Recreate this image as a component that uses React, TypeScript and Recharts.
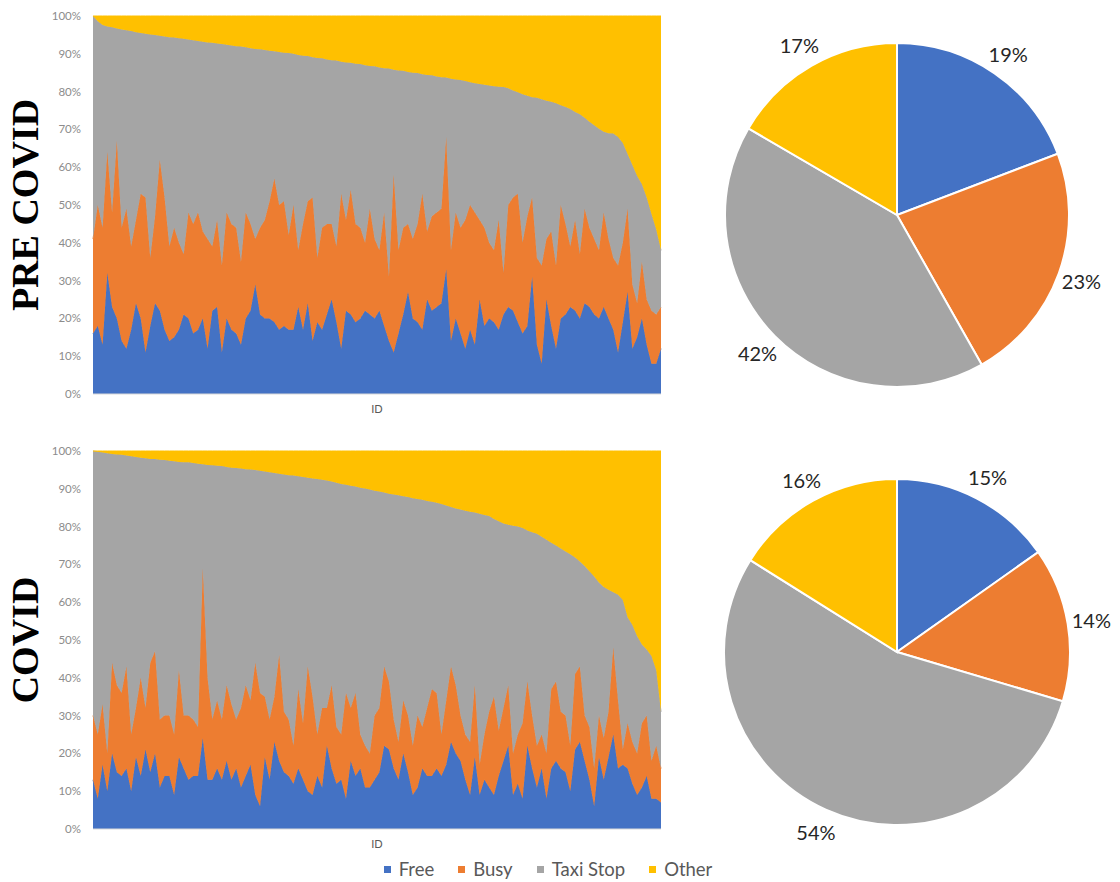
import React from 'react';
import { AreaChart, Area, XAxis, YAxis, PieChart, Pie, Cell } from 'recharts';

const seriesNames = ['Free', 'Busy', 'Taxi Stop', 'Other'];
const seriesKeys = ['free', 'busy', 'stop', 'other'];
const seriesColors = ['#4472C4', '#ED7D31', '#A5A5A5', '#FFC000'];
const yTicks = [0, 10, 20, 30, 40, 50, 60, 70, 80, 90, 100];

// levels, in %: top edge of Free, of Busy and of Taxi Stop
const preFree = [
  16, 18, 13, 32, 23, 20, 14, 12, 17, 24, 20, 11, 18, 24, 22, 17, 14, 15, 17, 21,
  20, 16, 17, 20, 12, 22, 23, 11, 20, 17, 16, 13, 20, 22, 29, 21, 20, 20, 19, 17,
  18, 17, 17, 23, 17, 24, 14, 19, 17, 21, 25, 19, 12, 22, 21, 19, 20, 22, 21, 20,
  22, 18, 14, 11, 16, 21, 27, 20, 19, 17, 25, 22, 23, 24, 33, 14, 20, 16, 12, 17,
  13, 25, 18, 20, 19, 17, 21, 23, 22, 19, 16, 18, 31, 13, 8, 25, 18, 12, 20, 21,
  23, 22, 20, 24, 23, 21, 20, 23, 20, 17, 11, 19, 27, 12, 15, 20, 13, 8, 8, 12,
];
const preBusyTop = [
  41, 50, 44, 64, 48, 67, 44, 49, 39, 46, 53, 52, 36, 47, 62, 52, 39, 44, 40, 37,
  48, 45, 48, 43, 41, 39, 46, 34, 48, 45, 44, 35, 48, 45, 41, 44, 46, 51, 57, 50,
  51, 42, 50, 38, 45, 51, 52, 36, 44, 45, 45, 39, 53, 46, 54, 45, 44, 40, 49, 41,
  38, 48, 31, 58, 38, 44, 45, 41, 45, 53, 43, 47, 48, 49, 68, 38, 48, 44, 46, 50,
  48, 46, 44, 40, 38, 46, 32, 50, 52, 53, 40, 47, 52, 36, 34, 41, 43, 34, 50, 45,
  39, 46, 37, 49, 44, 41, 38, 48, 41, 36, 34, 40, 49, 29, 24, 35, 25, 22, 21, 23,
];
const preStopTop = [
  100, 98.6, 97.6, 97.2, 97.0, 96.7, 96.4, 96.2, 96.0, 95.7, 95.5, 95.3, 95.1, 95.0, 94.8, 94.6, 94.4, 94.3, 94.1, 94.0,
  93.8, 93.6, 93.4, 93.2, 93.0, 92.9, 92.7, 92.6, 92.4, 92.2, 92.0, 91.9, 91.7, 91.5, 91.3, 91.2, 91.0, 90.8, 90.7, 90.5,
  90.3, 90.2, 90.0, 89.7, 89.5, 89.4, 89.1, 88.9, 88.8, 88.5, 88.3, 88.2, 87.9, 87.7, 87.6, 87.4, 87.3, 87.0, 86.8, 86.7,
  86.4, 86.2, 86.1, 85.8, 85.6, 85.5, 85.2, 85.0, 84.9, 84.6, 84.4, 84.3, 84.0, 83.8, 83.7, 83.4, 83.2, 83.1, 82.8, 82.5,
  82.2, 82.0, 81.8, 81.6, 81.4, 81.3, 81.2, 80.9, 80.3, 79.8, 79.3, 78.9, 78.5, 78.4, 78.0, 77.6, 77.3, 76.9, 76.4, 75.9,
  75.4, 74.6, 74.0, 73.1, 72.0, 71.1, 70.2, 69.4, 69.0, 68.9, 68.0, 66.4, 63.5, 60.6, 57.7, 55.5, 52.0, 47.6, 43.5, 38.0,
];

const covidFree = [
  13, 8, 17, 10, 20, 15, 14, 16, 10, 19, 14, 21, 15, 20, 11, 14, 14, 9, 19, 16,
  13, 14, 14, 24, 13, 13, 16, 13, 18, 13, 16, 11, 14, 17, 9, 6, 19, 13, 23, 18,
  15, 14, 12, 16, 13, 10, 9, 14, 11, 22, 16, 12, 13, 8, 18, 14, 16, 11, 11, 13,
  15, 22, 21, 16, 13, 20, 15, 9, 11, 16, 14, 14, 16, 14, 17, 23, 20, 18, 13, 9,
  19, 9, 13, 11, 9, 14, 18, 22, 9, 12, 8, 22, 16, 11, 16, 8, 16, 18, 16, 15,
  10, 21, 23, 18, 13, 6, 19, 13, 19, 25, 16, 17, 16, 12, 9, 11, 14, 8, 8, 7,
];
const covidBusyTop = [
  30, 25, 33, 20, 44, 38, 36, 43, 25, 32, 40, 32, 44, 47, 29, 30, 30, 25, 42, 30,
  30, 29, 27, 69, 40, 29, 34, 29, 38, 33, 29, 32, 38, 34, 44, 36, 35, 29, 35, 46,
  31, 29, 22, 37, 28, 43, 35, 25, 32, 32, 38, 27, 25, 36, 32, 36, 25, 22, 20, 30,
  32, 43, 39, 29, 23, 34, 30, 22, 30, 27, 32, 37, 36, 25, 34, 43, 38, 30, 25, 23,
  38, 17, 25, 31, 35, 26, 32, 38, 20, 25, 28, 39, 30, 22, 25, 20, 37, 39, 31, 30,
  22, 41, 43, 30, 27, 16, 30, 24, 31, 48, 34, 21, 28, 23, 20, 28, 30, 18, 22, 16,
];
const covidStopTop = [
  100, 99.8, 99.6, 99.4, 99.2, 99.1, 99.0, 98.8, 98.6, 98.4, 98.2, 98.1, 97.9, 97.9, 97.7, 97.6, 97.4, 97.3, 97.1, 97.0,
  97.0, 96.8, 96.6, 96.5, 96.3, 96.2, 96.1, 96.0, 95.8, 95.6, 95.5, 95.4, 95.2, 95.1, 95.0, 94.8, 94.6, 94.4, 94.2, 94.0,
  93.8, 93.6, 93.5, 93.3, 93.1, 92.9, 92.7, 92.6, 92.4, 92.2, 91.9, 91.6, 91.3, 91.1, 90.8, 90.6, 90.3, 90.1, 89.8, 89.5,
  89.3, 89.0, 88.7, 88.5, 88.3, 88.0, 87.8, 87.5, 87.3, 87.1, 86.8, 86.6, 86.3, 86.0, 85.6, 85.2, 84.8, 84.5, 84.2, 83.9,
  83.7, 83.4, 83.1, 82.8, 82.0, 81.4, 80.8, 80.5, 80.2, 80.0, 79.6, 79.0, 78.5, 78.1, 77.3, 76.5, 75.7, 75.0, 74.2, 73.4,
  72.7, 71.8, 70.8, 69.6, 68.2, 66.8, 65.2, 64.0, 63.3, 62.6, 62.0, 60.6, 56.0, 54.0, 51.0, 48.8, 47.5, 45.8, 42.0, 31.0,
];

// overall shares (Free, Busy, Taxi Stop, Other)
const prePie = [19.2, 22.6, 41.6, 16.6];
const covidPie = [15.2, 14.4, 54.3, 16.1];

const RADIAN = Math.PI / 180;

function buildRows(free: number[], busyTop: number[], stopTop: number[]) {
  return free.map((f, i) => ({
    id: i + 1,
    free: f,
    busy: busyTop[i] - f,
    stop: stopTop[i] - busyTop[i],
    other: 100 - stopTop[i],
  }));
}

function StackedShare({ rows }: { rows: ReturnType<typeof buildRows> }) {
  return (
    <AreaChart
      width={680}
      height={420}
      data={rows}
      margin={{ top: 16, right: 19, bottom: 6, left: 43 }}
    >
      <XAxis
        dataKey="id"
        tick={false}
        tickLine={false}
        axisLine={{ stroke: '#d9d9d9' }}
        height={20}
        label={{ value: 'ID', position: 'insideBottom', offset: 1, fill: '#595959', fontSize: 11 }}
      />
      <YAxis
        type="number"
        domain={[0, 100]}
        ticks={yTicks}
        interval={0}
        width={50}
        tickLine={false}
        axisLine={false}
        tickMargin={6}
        tick={{ fill: '#8c8c8c', fontSize: 11.5 }}
        tickFormatter={(v) => `${v}%`}
      />
      {seriesKeys.map((key, i) => (
        <Area
          key={key}
          type="linear"
          dataKey={key}
          name={seriesNames[i]}
          stackId="share"
          fill={seriesColors[i]}
          fillOpacity={1}
          stroke={seriesColors[i]}
          strokeWidth={1}
          dot={false}
          activeDot={false}
          isAnimationActive={false}
        />
      ))}
    </AreaChart>
  );
}

const renderPieLabel = (props: any) => {
  const { cx, cy, midAngle, outerRadius, percent } = props;
  const r = outerRadius + 24;
  const x = cx + r * Math.cos(-midAngle * RADIAN);
  const y = cy + r * Math.sin(-midAngle * RADIAN);
  return (
    <text x={x} y={y} fill="#262626" fontSize={20} textAnchor="middle" dominantBaseline="central">
      {`${Math.round(percent * 100)}%`}
    </text>
  );
};

function SharePie({ values, radius }: { values: number[]; radius: number }) {
  const data = seriesNames.map((name, i) => ({ name, value: values[i] }));
  return (
    <PieChart width={440} height={430} margin={{ top: 0, right: 0, bottom: 0, left: 0 }}>
      <Pie
        data={data}
        dataKey="value"
        cx={217}
        cy={215}
        outerRadius={radius}
        startAngle={90}
        endAngle={-270}
        stroke="#ffffff"
        strokeWidth={2}
        label={renderPieLabel}
        labelLine={false}
        isAnimationActive={false}
      >
        {data.map((d, i) => (
          <Cell key={d.name} fill={seriesColors[i]} />
        ))}
      </Pie>
    </PieChart>
  );
}

function SideTitle({ text, y }: { text: string; y: number }) {
  return (
    <div
      style={{
        position: 'absolute',
        left: 25,
        top: y,
        transform: 'translate(-50%, -50%) rotate(-90deg)',
        fontFamily: '"Liberation Serif", "Times New Roman", serif',
        fontWeight: 700,
        fontSize: 38,
        lineHeight: '38px',
        whiteSpace: 'nowrap',
        color: '#000',
      }}
    >
      {text}
    </div>
  );
}

export default function App() {
  const preRows = buildRows(preFree, preBusyTop, preStopTop);
  const covidRows = buildRows(covidFree, covidBusyTop, covidStopTop);

  return (
    <div
      style={{
        position: 'absolute',
        left: 0,
        top: 0,
        width: 1120,
        height: 882,
        background: '#fff',
        fontFamily: 'Lato, "Noto Sans", sans-serif',
      }}
    >
      <div style={{ position: 'absolute', left: 0, top: 0 }}>
        <StackedShare rows={preRows} />
      </div>
      <div style={{ position: 'absolute', left: 0, top: 435 }}>
        <StackedShare rows={covidRows} />
      </div>
      <div style={{ position: 'absolute', left: 680, top: 0 }}>
        <SharePie values={prePie} radius={172} />
      </div>
      <div style={{ position: 'absolute', left: 680, top: 437 }}>
        <SharePie values={covidPie} radius={173} />
      </div>

      <SideTitle text="PRE COVID" y={205} />
      <SideTitle text="COVID" y={640} />

      <div
        style={{
          position: 'absolute',
          left: 0,
          top: 857,
          width: 1096,
          display: 'flex',
          justifyContent: 'center',
          gap: 24,
          fontSize: 18.5,
          lineHeight: '24px',
          color: '#595959',
        }}
      >
        {seriesNames.map((name, i) => (
          <div key={name} style={{ display: 'flex', alignItems: 'center' }}>
            <span
              style={{
                display: 'inline-block',
                width: 7,
                height: 7,
                background: seriesColors[i],
                marginRight: 8,
              }}
            />
            <span>{name}</span>
          </div>
        ))}
      </div>
    </div>
  );
}
